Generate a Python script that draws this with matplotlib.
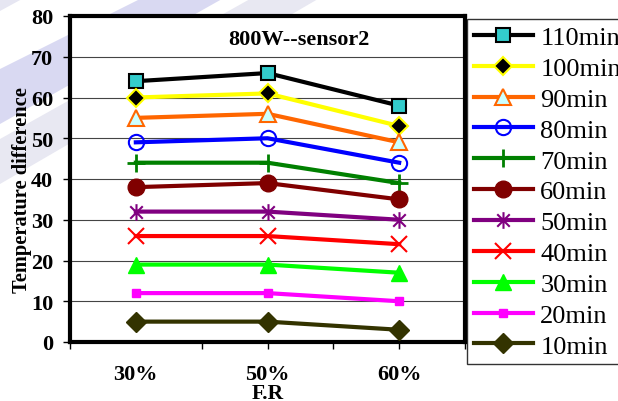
import matplotlib
matplotlib.use("Agg")
import matplotlib.pyplot as plt
from matplotlib.patches import Polygon
from matplotlib.path import Path

# ---- data ----
flow_rates = ["30%", "50%", "60%"]
series_names = ["110min", "100min", "90min", "80min", "70min", "60min",
                "50min", "40min", "30min", "20min", "10min"]
t110 = [64, 66, 58]
t100 = [60, 61, 53]
t90 = [55, 56, 49]
t80 = [49, 50, 44]
t70 = [44, 44, 39]
t60 = [38, 39, 35]
t50 = [32, 32, 30]
t40 = [26, 26, 24]
t30 = [19, 19, 17]
t20 = [12, 12, 10]
t10 = [5, 5, 3]
series_values = [t110, t100, t90, t80, t70, t60, t50, t40, t30, t20, t10]

# asterisk marker: vertical stroke plus an X
asterisk = Path(
    [(0, -1), (0, 1), (-0.75, -0.75), (0.75, 0.75), (-0.75, 0.75), (0.75, -0.75)],
    [Path.MOVETO, Path.LINETO, Path.MOVETO, Path.LINETO, Path.MOVETO, Path.LINETO],
)

styles = [
    dict(color="black", marker="s", ms=10.5, mfc="#33cccc", mec="black", mew=1.5),
    dict(color="#ffff00", marker="D", ms=9, mfc="black", mec="#ffff00", mew=1.5),
    dict(color="#ff6600", marker="^", ms=12, mfc="#ccffff", mec="#ff6600", mew=1.5),
    dict(color="#0000ff", marker="o", ms=11, mfc="none", mec="#0000ff", mew=1.5),
    dict(color="#008000", marker="+", ms=13, mec="#008000", mew=2),
    dict(color="#800000", marker="o", ms=12, mfc="#800000", mec="#800000", mew=1),
    dict(color="#800080", marker=asterisk, ms=12, mec="#800080", mew=1.5),
    dict(color="#ff0000", marker="x", ms=11, mec="#ff0000", mew=1.5),
    dict(color="#00ff00", marker="^", ms=12, mfc="#00ff00", mec="#00ff00", mew=1),
    dict(color="#ff00ff", marker="s", ms=6, mfc="#ff00ff", mec="#ff00ff", mew=1),
    dict(color="#333300", marker="D", ms=10, mfc="#333300", mec="#333300", mew=1),
]

serif = "Liberation Serif"
W, H = 618, 402
fig = plt.figure(figsize=(W / 100, H / 100), dpi=100)
fig.patch.set_facecolor("white")

# faint diagonal bands in the page background
def px(pts):
    return [(x / W, 1 - y / H) for x, y in pts]

bands = [
    ([(0, 70), (0, 125), (222, 0), (140, 0)], "#d9d9f2"),
    ([(0, 140), (0, 185), (318, 0), (250, 0)], "#e8e8f2"),
    ([(0, 0), (0, 12), (22, 0)], "#e6e6f2"),
]
for pts, col in bands:
    fig.patches.append(Polygon(px(pts), closed=True, transform=fig.transFigure,
                               facecolor=col, edgecolor="none", zorder=-5))

ax = fig.add_axes([70 / W, 1 - 343 / H, (465 - 70) / W, (343 - 17) / H])
ax.set_zorder(2)
ax.set_facecolor("white")

x = list(range(len(flow_rates)))
handles = []
for name, vals, st in zip(series_names, series_values, styles):
    st = dict(st)
    color = st.pop("color")
    marker = st.pop("marker")
    ms = st.pop("ms")
    (h,) = ax.plot(x, vals, color=color, lw=3, marker=marker, markersize=ms,
                   label=name, zorder=3, clip_on=False, **st)
    handles.append(h)

ax.set_xlim(-0.5, 2.5)
ax.set_ylim(0, 80)
ax.set_yticks(range(0, 81, 10))
ax.yaxis.grid(True, color="#444444", lw=0.8)
ax.set_axisbelow(True)

for sp in ax.spines.values():
    sp.set_linewidth(3)
    sp.set_color("black")

ax.set_xticks(x)
ax.set_xticklabels(flow_rates)
ax.set_xticks([-0.5, 0.5, 1, 1.5, 2, 2.5], minor=True)
ax.xaxis.remove_overlapping_locs = False
ax.tick_params(axis="x", which="major", length=0, pad=16)
ax.tick_params(axis="x", which="minor", length=5, width=1, direction="out")
ax.tick_params(axis="y", length=5, width=1, direction="out", pad=7)

for lab in ax.get_xticklabels() + ax.get_yticklabels():
    lab.set_fontfamily(serif)
    lab.set_fontweight("bold")
    lab.set_fontsize(16)

ax.set_ylabel("Temperature difference", fontfamily=serif, fontweight="bold",
              fontsize=14.7)
ax.yaxis.set_label_coords(-0.095, 0.469)
ax.set_xlabel("F.R", fontfamily=serif, fontweight="bold", fontsize=15.5)
ax.xaxis.set_label_coords(0.5, -0.127)

ax.text(0.58, 0.929, "800W--sensor2", transform=ax.transAxes, ha="center",
        va="center", fontfamily=serif, fontweight="bold", fontsize=16)

leg = fig.legend(handles=handles, loc="upper left",
                 bbox_to_anchor=(467 / W, 1 - 20 / H),
                 bbox_transform=fig.transFigure, borderaxespad=0,
                 prop={"family": serif, "size": 19}, frameon=True,
                 fancybox=False, shadow=False, handlelength=2.25,
                 handletextpad=0.28, borderpad=0.25, labelspacing=0.28)
leg.get_frame().set_edgecolor("black")
leg.get_frame().set_linewidth(1)
leg.get_frame().set_facecolor("white")

fig.savefig("out.png", dpi=100)
